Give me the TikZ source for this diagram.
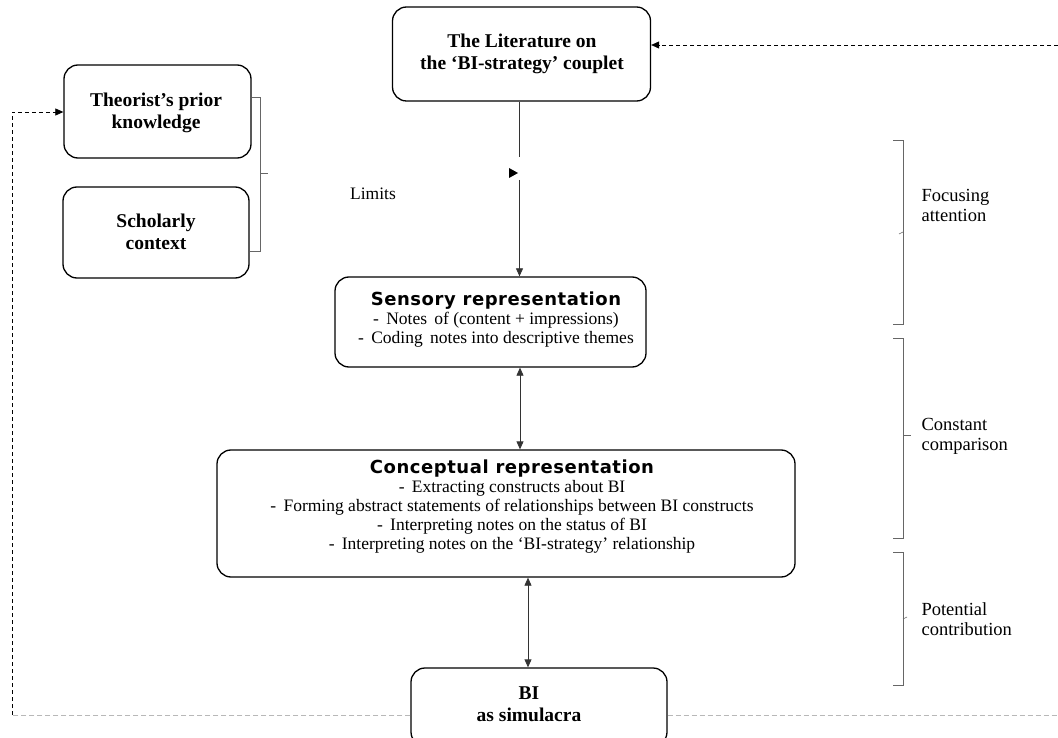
\documentclass[tikz,border=0pt]{standalone}
\usepackage{fontspec}
\setmainfont{Liberation Serif}
\newfontfamily\headfont{DejaVu Sans}[LetterSpace=3]
\usetikzlibrary{arrows.meta,calc}

\begin{document}
\begin{tikzpicture}[x=1pt,y=-1pt,
  box/.style={draw, line width=1.3pt, rounded corners=14pt, inner sep=0pt},
  boxtitle/.style={align=center, font=\fontsize{19.5}{22.5}\selectfont\bfseries},
  bodytext/.style={align=center, font=\fontsize{17.5}{19}\selectfont},
  sidetext/.style={align=left, anchor=west, font=\fontsize{18.5}{20}\selectfont},
  link/.style={draw=black!80, line width=0.8pt},
  tip/.style={-{Triangle[length=8pt,width=7pt]}},
  dtip/.style={{Triangle[length=8pt,width=7pt]}-{Triangle[length=8pt,width=7pt]}},
  loopback/.style={draw, dash pattern=on 4pt off 3pt, line width=0.7pt},
  loopgray/.style={draw=black!28, dash pattern=on 5pt off 3pt, line width=1pt},
  bracket/.style={draw=black!60, line width=0.6pt}]
\useasboundingbox (0,0) rectangle (1058,738);
\newcommand\headline[1]{{\headfont\bfseries\fontsize{18}{19}\selectfont #1}}

% boxes
\node[box, minimum width=258pt, minimum height=94pt] (lit) at (521.5,54) {};
\node[boxtitle] (litText) at (522,54) {The Literature on\\the ‘BI-strategy’ couplet};

\node[box, minimum width=187pt, minimum height=93pt] (prior) at (157.5,111.5) {};
\node[boxtitle] (priorText) at (156,113) {Theorist’s prior\\knowledge};

\node[box, minimum width=186pt, minimum height=91pt] (context) at (156,232.5) {};
\node[boxtitle] (contextText) at (156,232) {Scholarly\\context};

\node[box, minimum width=311pt, minimum height=90pt] (sens) at (490.5,322) {};
\node[bodytext] (sensText) at (496,319.5) {\headline{Sensory representation}\\
  -\, Notes\, of (content + impressions)\\
  -\, Coding\, notes into descriptive themes};

\node[box, minimum width=578pt, minimum height=127pt] (conc) at (506,513.5) {};
\node[bodytext] (concText) at (512,507) {\headline{Conceptual representation}\\
  -\, Extracting constructs about BI\\
  -\, Forming abstract statements of relationships between BI constructs\\
  -\, Interpreting notes on the status of BI\\
  -\, Interpreting notes on the ‘BI-strategy’ relationship};

\node[box, minimum width=256pt, minimum height=78pt] (bi) at (539,707) {};
\node[boxtitle] (biText) at (529,704) {BI\\as simulacra};

\node[font=\fontsize{17.5}{20}\selectfont] (limits) at (373,194) {Limits};

% vertical flow
\coordinate (gapTop) at (519.5,157);
\coordinate (gapBot) at (519.5,180);
\coordinate (mark) at (518,173);
\draw[link] (lit.south -| gapTop) -- (gapTop);
\fill (mark) -- ++(-9,-5) -- ++(0,10) -- cycle;
\draw[link, tip] (gapBot) -- (sens.north -| gapBot);

\coordinate (axA) at (520,0);
\draw[link, dtip] (sens.south -| axA) -- (conc.north -| axA);
\coordinate (axB) at (528,0);
\draw[link, dtip] (conc.south -| axB) -- (bi.north -| axB);

% feedback loop
\coordinate (lowL) at (12,715);
\coordinate (upL) at (12,112);
\coordinate (lowR) at (1058,715);
\coordinate (topR) at (1058,45);
\draw[loopgray] (bi.west |- lowL) -- (lowL);
\draw[loopgray] (bi.east |- lowR) -- (lowR);
\draw[loopback, tip] (lowL) -- (upL) -- (prior.west |- upL);
\draw[loopback, tip] (topR) -- (lit.east |- topR);

% bracket for prior knowledge and context
\draw[bracket] (prior.east |- 0,97) -- (260,97) -- (260,251) -- (context.east |- 0,251);
\draw[bracket] (260,173) -- (268,173);

% phase brackets
\draw[bracket] (893,140) -- (903,140) -- (903,324) -- (893,324);
\draw[bracket] (903,232) -- (899,234);
\node[sidetext] (focus) at (918,205) {Focusing\\attention};

\draw[bracket] (893,338) -- (903,338) -- (903,538) -- (893,538);
\draw[bracket] (903,435) -- (911,435);
\node[sidetext] (compare) at (918,436) {Constant\\comparison};

\draw[bracket] (893,552) -- (903,552) -- (903,685) -- (893,685);
\draw[bracket] (903,619) -- (907,617);
\node[sidetext] (contrib) at (918,619) {Potential\\contribution};
\end{tikzpicture}
\end{document}
